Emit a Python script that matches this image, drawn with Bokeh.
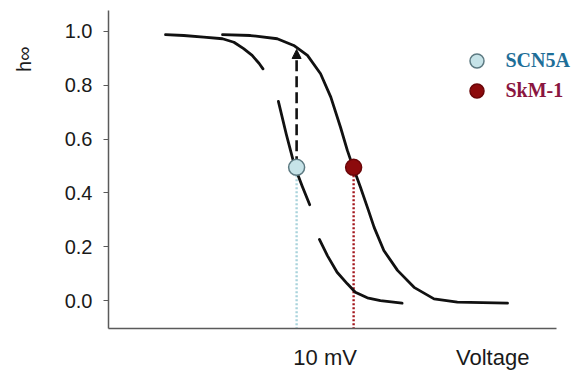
import math
from bokeh.plotting import figure
from bokeh.models import (Range1d, FixedTicker, PrintfTickFormatter, Arrow, Title,
                          NormalHead, Legend, LegendItem, ColumnDataSource)
from bokeh.embed import file_html
from bokeh.resources import INLINE

# ---- data (voltage in mV, steady-state inactivation h_inf) ----
scn5a_seg1_v = [-93.0, -89.8, -86.3, -83.0, -81.0, -79.3, -77.8, -76.6, -75.9]
scn5a_seg1_h = [0.988, 0.985, 0.979, 0.973, 0.960, 0.936, 0.911, 0.882, 0.861]
scn5a_seg2_v = [-73.2, -71.8, -70.3, -69.0, -67.7]
scn5a_seg2_h = [0.740, 0.617, 0.496, 0.424, 0.356]
scn5a_seg3_v = [-66.0, -64.6, -62.9, -61.1, -59.7, -57.6, -55.3, -51.5]
scn5a_seg3_h = [0.227, 0.167, 0.105, 0.062, 0.031, 0.010, 0.000, -0.010]

skm1_v = [-83.0, -78.1, -73.4, -70.5, -68.1, -65.8, -64.0, -62.3, -61.1, -60.1,
          -58.8, -57.4, -56.4, -54.7, -52.3, -49.4, -45.9, -41.8, -33.0]
skm1_h = [0.988, 0.985, 0.973, 0.948, 0.911, 0.843, 0.756, 0.644, 0.558, 0.496,
          0.421, 0.335, 0.272, 0.186, 0.112, 0.049, 0.006, -0.006, -0.010]

names = ["SCN5A", "SkM-1"]
half_v = [-70.0, -60.0]       # half-inactivation voltages
half_h = [0.495, 0.495]
arrow_top_h = 0.933
yticks = [0.0, 0.2, 0.4, 0.6, 0.8, 1.0]
shift_label = "10 mV"
x_title = "Voltage"
x_title_pos = -35.6
y_title = "h∞"

x_lo, x_hi = -103.0, -20.2
x_axis_end = -24.4
y_lo, y_hi = -0.104, 1.078

marker_fill = ["#c6e3e8", "#8c0a0c"]
marker_line = ["#5d7a82", "#6a0508"]
dot_colors = ["#a9d3dc", "#a3161c"]
text_colors = ["#1e6e98", "#8a1540"]

p = figure(width=580, height=379, output_backend="svg", toolbar_location=None,
           x_range=Range1d(x_lo, x_hi), y_range=Range1d(y_lo, y_hi),
           min_border_left=108, min_border_right=0, min_border_top=10,
           min_border_bottom=51)
p.outline_line_color = None
p.xgrid.visible = False
p.ygrid.visible = False
p.background_fill_color = "white"
p.border_fill_color = "white"

# axes
p.yaxis.ticker = FixedTicker(ticks=yticks)
p.yaxis.formatter = PrintfTickFormatter(format="%.1f")
p.yaxis.major_label_text_font = "Liberation Sans"
p.yaxis.major_label_text_font_size = "20px"
p.yaxis.major_label_text_color = "#1a1a1a"
p.yaxis.major_tick_out = 5
p.yaxis.major_tick_in = 0
p.yaxis.minor_tick_line_color = None
p.yaxis.major_label_standoff = 11
# blank axis label only used as spacer between tick labels and the h-inf title
p.yaxis.axis_label = " "
p.yaxis.axis_label_text_font_size = "1px"
p.yaxis.axis_label_standoff = 13
for ax in (p.xaxis, p.yaxis):
    ax.axis_line_color = "#5a5a5a"
    ax.axis_line_width = 1.5
    ax.major_tick_line_color = "#5a5a5a"
    ax.major_tick_line_width = 1.2
mid_v = (half_v[0] + half_v[1]) / 2
p.xaxis.bounds = (x_lo, x_axis_end)
p.xaxis.ticker = FixedTicker(ticks=[mid_v, x_title_pos])
p.xaxis.major_label_overrides = {mid_v: shift_label, x_title_pos: x_title}
p.xaxis.minor_tick_line_color = None
p.xaxis.major_tick_line_color = None
p.xaxis.major_tick_out = 0
p.xaxis.major_tick_in = 0
p.xaxis.major_label_standoff = 16
p.xaxis.major_label_text_font = "Liberation Sans"
p.xaxis.major_label_text_font_size = "22px"
p.xaxis.major_label_text_color = "#1a1a1a"

# y title near the top of the axis
p.add_layout(Title(text=y_title, align="right", offset=36, standoff=20,
                   text_font="Liberation Sans", text_font_size="20px",
                   text_font_style="normal", text_color="#1a1a1a"), "left")

# dotted drop lines from the half points to the axis
p.segment(x0=half_v, y0=half_h, x1=half_v, y1=[y_lo, y_lo],
          line_color=dot_colors, line_width=2.4, line_dash="2 2")

# dashed arrow
p.add_layout(Arrow(x_start=half_v[0], y_start=half_h[0], x_end=half_v[0], y_end=arrow_top_h,
                   line_color="#111111", line_width=2.6, line_dash="11 5", level="underlay",
                   end=NormalHead(size=9, fill_color="#111111", line_color="#111111",
                                  line_width=1)))

# curves
p.multi_line(xs=[scn5a_seg1_v, scn5a_seg2_v, scn5a_seg3_v],
             ys=[scn5a_seg1_h, scn5a_seg2_h, scn5a_seg3_h],
             line_color="#111111", line_width=2.8, line_cap="round", line_join="round")
p.line(skm1_v, skm1_h, line_color="#111111", line_width=2.8, line_cap="round",
       line_join="round")

src = ColumnDataSource(dict(v=half_v, h=half_h, fill=marker_fill, line=marker_line))
pts = p.scatter("v", "h", source=src, size=16, fill_color="fill", line_color="line",
                line_width=1.5)

# legends (one per item so each label has its own colour)
for i, (name, col, ly) in enumerate(zip(names, text_colors, [250.5, 220.5])):
    lg = Legend(items=[LegendItem(label=name, renderers=[pts], index=i)],
                location=(350.5, ly), padding=0, margin=0, spacing=0,
                border_line_color=None, background_fill_alpha=0,
                glyph_width=35, glyph_height=35, label_standoff=12,
                label_text_font="Liberation Serif", label_text_font_style="bold",
                label_text_font_size="20px", label_text_color=col)
    p.add_layout(lg)

open("out.html", "w").write(file_html(p, INLINE))
